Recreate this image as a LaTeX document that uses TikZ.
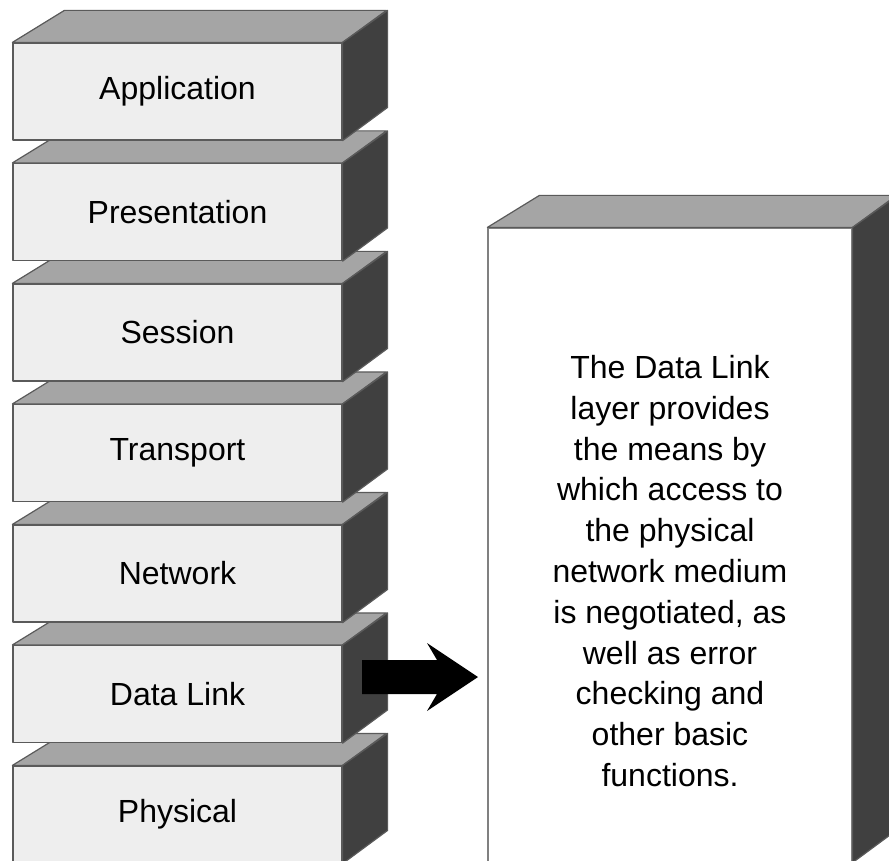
\documentclass[tikz,border=0pt]{standalone}
\usepackage{fontspec}
\setmainfont{Liberation Sans}
\definecolor{frontgray}{HTML}{EEEEEE}
\definecolor{topgray}{HTML}{A5A5A5}
\definecolor{sidegray}{HTML}{404040}
\definecolor{edgegray}{HTML}{5A5A5A}
\tikzset{
  face/.style={draw=edgegray, line width=1.2pt, line join=round},
  layer/.style={face, fill=frontgray, rectangle, minimum width=329pt,
    minimum height=97pt, inner sep=0pt, font=\fontsize{32}{38}\selectfont},
  topface/.style={face, fill=topgray},
  sideface/.style={face, fill=sidegray},
  descbox/.style={face, draw=gray, fill=white, rectangle, minimum width=364pt,
    minimum height=634pt, inner sep=0pt}
}
\begin{document}
\begin{tikzpicture}[x=1pt,y=-1pt]
\useasboundingbox (0,0) rectangle (889,861);

% layer stack, drawn from the bottom up
\foreach \name/\label [count=\i] in {phys/Physical,dl/Data Link,net/Network,trans/Transport,sess/Session,pres/Presentation,app/Application}
{
  \node[layer] (\name) at (177.5,{91.5+120.5*(7-\i)}) {\label};
  \draw[topface] (\name.north west) -- ++(52,-32) -- ++(322,0) -- (\name.north east) -- cycle;
  \draw[sideface] (\name.north east) -- ++(45,-32) -- ++(0,97) -- (\name.south east) -- cycle;
}

% description box
\node[descbox] (desc) at (670,545) {};
\draw[topface] (desc.north west) -- ++(52,-32) -- ++(357,0) -- (desc.north east) -- cycle;
\draw[sideface] (desc.north east) -- ++(45,-32) -- ++(0,634) -- (desc.south east) -- cycle;
\node[align=center, font=\fontsize{32}{40.8}\selectfont] (desctext) at (670,571)
  {The Data Link\\layer provides\\the means by\\which access to\\the physical\\network medium\\is negotiated, as\\well as error\\checking and\\other basic\\functions.};

% arrow
\coordinate (arrowtail) at (362,677);
\fill[black] (arrowtail) ++(0,-17) -- ++(75,0) -- ++(-10,-17) -- ++(51,34)
  -- ++(-51,34) -- ++(10,-17) -- ++(-75,0) -- cycle;
\end{tikzpicture}
\end{document}
